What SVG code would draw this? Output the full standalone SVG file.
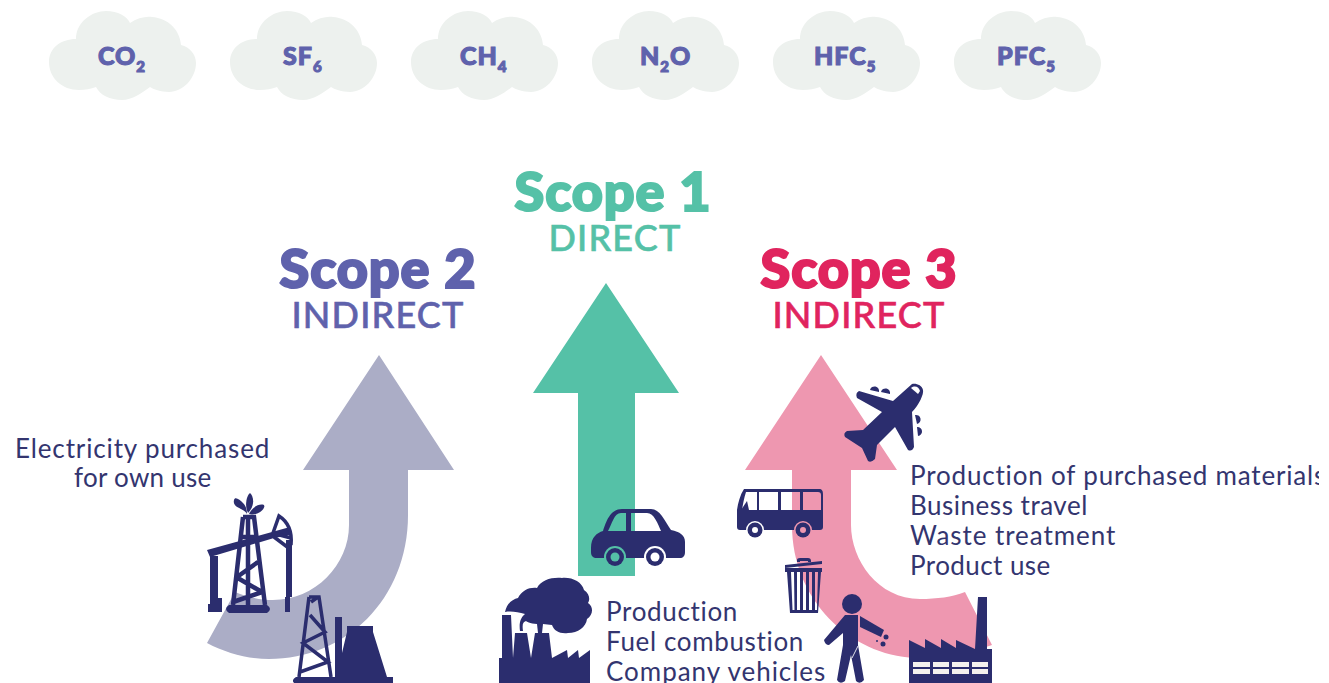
<svg xmlns="http://www.w3.org/2000/svg" width="1329" height="683" viewBox="0 0 1329 683">
<style>
.cloud{fill:#edf1ee}
.gas{font-family:"Lato","Liberation Sans",sans-serif;font-weight:900;font-size:25px;fill:#5f62ac;stroke:#5f62ac;stroke-width:1.1px;letter-spacing:1px}
.sub{font-size:15px}
.sc{font-family:"Lato","Liberation Sans",sans-serif;font-weight:900;font-size:54px;text-anchor:middle;stroke-width:2.2px;letter-spacing:.9px}
.kind{font-family:"Lato","Liberation Sans",sans-serif;font-weight:500;font-size:36px;text-anchor:middle;stroke-width:.6px;letter-spacing:1.2px}
.lab{font-family:"Lato","Liberation Sans",sans-serif;font-size:26px;fill:#33356f;letter-spacing:.7px}
.ic{fill:#2b2d6e}
.icl{fill:none;stroke:#2b2d6e}
.win{fill:#f4f1ee}
</style>
<defs>
<path id="c" d="M76,39C76,22 92,11 106,11C118,11 127,16 130,23C137,18 146,16 152,17C168,18 180,30 181,45C190,47 196,55 196,63C196,78 183,92 169,92C161,92 153,89 150,87C142,93 132,100 122,100C110,100 100,95 96,87C91,89 85,90 79,90C62,90 49,78 49,62C49,48 61,39 76,39Z"/>
<clipPath id="edge"><rect x="0" y="0" width="1319" height="683"/></clipPath>
</defs>
<rect width="1329" height="683" fill="#fff"/>
<g id="cloud-co2"><use href="#c" class="cloud"/><text class="gas" x="98" y="65">CO<tspan class="sub" dy="7">2</tspan></text></g>
<g id="cloud-sf6"><use href="#c" x="181" class="cloud"/><text class="gas" x="283" y="65">SF<tspan class="sub" dy="7">6</tspan></text></g>
<g id="cloud-ch4"><use href="#c" x="362" class="cloud"/><text class="gas" x="460" y="65">CH<tspan class="sub" dy="7">4</tspan></text></g>
<g id="cloud-n2o"><use href="#c" x="543" class="cloud"/><text class="gas" x="640" y="65">N<tspan class="sub" dy="7">2</tspan><tspan dy="-7">O</tspan></text></g>
<g id="cloud-hfc"><use href="#c" x="724" class="cloud"/><text class="gas" x="814" y="65">HFC<tspan class="sub" dy="7">5</tspan></text></g>
<g id="cloud-pfc"><use href="#c" x="905" class="cloud"/><text class="gas" x="997" y="65">PFC<tspan class="sub" dy="7">5</tspan></text></g>

<g id="scope2">
<path fill="#abadc6" d="M379,355L454,470H408V515C408,600 345,659 269,659C247,659 226,653 207,643L235,592C247,597 260,600 273,600C315,600 349,565 349,525V470H303Z"/>
<text class="sc" x="378" y="288" fill="#5f62ac" stroke="#5f62ac">Scope 2</text>
<text class="kind" x="378" y="328" fill="#5f62ac" stroke="#5f62ac">INDIRECT</text>
<text class="lab" x="15" y="458" textLength="255">Electricity purchased</text>
<text class="lab" x="74" y="487" textLength="138">for own use</text>
</g>
<g id="scope1">
<path fill="#55c1a7" d="M606,283L679,393H635V576H578V393H533Z"/>
<text class="sc" x="613" y="211" fill="#55c1a7" stroke="#55c1a7">Scope 1</text>
<text class="kind" x="615" y="251" fill="#55c1a7" stroke="#55c1a7">DIRECT</text>
<text class="lab" x="606" y="621" textLength="132">Production</text>
<text class="lab" x="606" y="651" textLength="198">Fuel combustion</text>
<text class="lab" x="606" y="681" textLength="220">Company vehicles</text>
</g>
<g id="scope3">
<path fill="#ee97b0" d="M821,355L897,470H851V525C851,560 878,599 920,599C937,599 952,597 965,592L992,645C966,654 940,658 915,658C850,655 792,600 792,525V470H745Z"/>
<text class="sc" x="859" y="288" fill="#e0245e" stroke="#e0245e">Scope 3</text>
<text class="kind" x="859" y="328" fill="#e0245e" stroke="#e0245e">INDIRECT</text>
<text class="lab" x="910" y="485" textLength="416" clip-path="url(#edge)">Production of purchased materials</text>
<text class="lab" x="910" y="515" textLength="178">Business travel</text>
<text class="lab" x="910" y="545" textLength="206">Waste treatment</text>
<text class="lab" x="910" y="575" textLength="141">Product use</text>
</g>

<g id="icon-oil-pump">
<path class="ic" d="M247,514C244,508 232,508 234,500C235,496 240,500 243,503C246,506 247,510 247,514Z"/>
<path class="ic" d="M248,513C244,505 247,495 250,493C253,495 256,505 248,513Z"/>
<path class="ic" d="M249,514C251,509 258,503 264,505C266,510 256,516 249,514Z"/>
<path class="ic" d="M207,550L272,532L290,527V535L274,538L210,557ZM210,556H218V598H222V612H208V604H210ZM285,597H290V612H285ZM286,540H292V597H286Z"/>
<path class="icl" stroke-width="4.5" d="M243,517H254L265,605M243,517L233,605M248,519V605M241,537H256M237,577L258,562M236,577L262,592M233,602L262,592"/>
<path class="ic" d="M229,605H267Q273,609 267,613H229Q223,609 229,605Z"/>
<path class="icl" stroke-width="3.5" d="M273,533L279,516Q293,525 291,545M272,533L291,538M274,537L290,549"/>
</g>
<g id="icon-oil-rig">
<path class="icl" stroke-width="3.5" d="M309,597H319L331,677M309,597L299,677M311,602L318,597M310,615L325,632L303,643L328,662L300,672"/>
<path class="ic" d="M296,677H393V683H294Q291,680 296,677Z"/>
<path class="ic" d="M335,617H342V677H335ZM347,626H373V632L387,677H342V653L347,632Z"/>
</g>
<g id="icon-car">
<path class="ic" fill-rule="evenodd" d="M591,548C591,537 597,533 603,531C606,522 610,509 622,509H651C660,509 664,520 671,530C680,532 685,535 685,542V552C685,556 683,558 680,558H597C593,558 591,556 591,552ZM631,513H647C654,513 658,524 661,531H631ZM608,531H626V513H621C614,513 612,524 608,531Z"/>
<circle cx="615" cy="557" r="11" fill="#55c1a7"/><circle cx="655" cy="557" r="11" fill="#fff"/>
<circle cx="615" cy="557" r="9" class="ic"/><circle cx="655" cy="557" r="9" class="ic"/>
<circle cx="615" cy="557" r="4.5" fill="#55c1a7"/><circle cx="655" cy="557" r="4.5" fill="#fff"/>
</g>
<g id="icon-smoke-factory">
<path class="ic" d="M499,683V658H502V615H511L513,658L515,633H527L531,658L535,633H549L552,658L567,650L568,658L578,650L579,658L590,650V683Z"/>
<path class="ic" d="M505,612C507,603 513,599 518,598C522,590 530,587 537,588C541,580 552,577 562,578C572,577 582,582 584,590C590,594 590,600 588,603C594,607 593,615 587,619C586,627 578,633 568,633C560,634 554,631 552,625L543,624L542,633H538L537,624C530,624 526,621 526,621C523,622 522,624 523,631H520C519,624 520,618 525,614C518,612 511,611 505,612Z"/>
</g>
<g id="icon-plane">
<path class="ic" d="M912,384C916,383 922,385 923,390C924,394 919,405 912,412L914,447Q912,452 908,450L895,427L877,445L875,459Q871,463 868,461L862,448L845,437Q843,433 847,431L863,430L882,412L857,398Q855,393 859,391L893,401Z"/>
<path class="ic" d="M870,390A4.5,4.5 0 0 1 879,392ZM881,392A4.5,4.5 0 0 1 890,394ZM915,415A4.5,4.5 0 0 1 917,424ZM917,427A4.5,4.5 0 0 1 918,436Z"/>
<path fill="#fff" d="M911,388C915,385 919,387 920,391L918,394Z"/>
</g>
<g id="icon-bus">
<path class="ic" fill-rule="evenodd" d="M744,489H819C822,489 823,491 823,494V527C823,529 822,530 820,530H740C738,530 737,529 737,527V510C738,503 740,495 744,489ZM746,492H757V510H742C743,504 744,498 746,492ZM759,492H778V510H759ZM781,492H800V510H781ZM803,492H818Q821,492 821,495V510H803Z"/>
<path class="ic" d="M741,510L747,501L749,510Z"/>
<circle cx="755" cy="530" r="9" fill="#fff"/><circle cx="803" cy="530" r="9" fill="#ee97b0"/>
<circle cx="755" cy="530" r="7.5" class="ic"/><circle cx="803" cy="530" r="7.5" class="ic"/>
<circle cx="755" cy="530" r="3" fill="#fff"/><circle cx="803" cy="530" r="3" fill="#ee97b0"/>
</g>
<g id="icon-bin">
<path class="ic" d="M785,565L822,561V564L785,568ZM797,562V560Q797,558 800,558L808,558Q811,558 811,561V562H808V561H800V562Z"/>
<path class="ic" fill-rule="evenodd" d="M785,568H822V572H821L818,613H790L787,572H785ZM791,572h3l.5,38h-2zM797,572h3v38h-3zM803,572h3v38h-3zM809,572h3v38h-3zM815,572h3l-1,38h-2z"/>
</g>
<g id="icon-person">
<circle cx="852" cy="604" r="10" class="ic"/>
<path class="ic" d="M845,615H858V645L864,680Q860,685 856,681L851,655L845,681Q840,685 837,680L843,645V633L829,645Q825,645 824,640Z"/>
<path class="ic" d="M860,616L884,630L881,637L860,627Z"/>
<circle cx="886" cy="637" r="2.5" class="ic"/><circle cx="883" cy="644" r="2.5" class="ic"/><circle cx="877" cy="641" r="1" class="ic"/>
<path fill="none" stroke="#dfe0ea" stroke-width="1" d="M858,646L852,658"/>
</g>
<g id="icon-factory">
<path class="ic" d="M909,640L925,648V639L941,648V639L956,648V640L975,649L978,597H987V649H992V683H909Z"/>
<path class="win" d="M913,662h17v5h-17zM933,662h16v5h-16zM952,662h17v5h-17zM972,662h16v5h-16zM913,669h17v5h-17zM933,669h16v5h-16zM952,669h17v5h-17zM972,669h16v5h-16z"/>
</g>
</svg>
